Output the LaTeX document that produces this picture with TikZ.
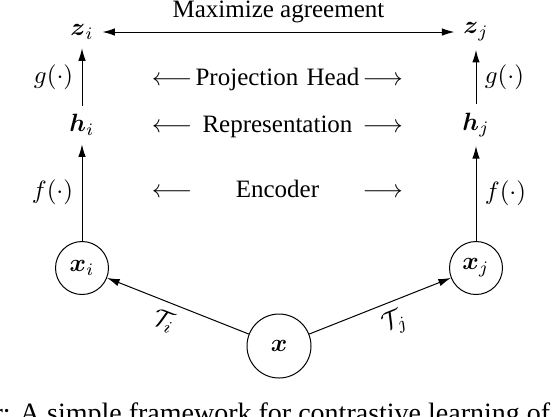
\documentclass[tikz,border=0pt]{standalone}
\usepackage[no-math]{fontspec}
\setmainfont{Liberation Serif}
\usepackage{amsmath}
\usetikzlibrary{arrows.meta}
\begin{document}
\begin{tikzpicture}[x=0.4pt, y=-0.4pt,
	>={Latex[length=5pt,width=3pt]},
	view/.style={shape=circle, draw, inner sep=0pt, minimum size=21.2pt},
	input/.style={view, minimum size=25.6pt},
	rowtext/.style={anchor=base, inner sep=0pt, text width=100.4pt},
]
\useasboundingbox (0,0) rectangle (554,416);
\node[input] (x) at (279,346) {$\boldsymbol{x}$};
\node[view] (xi) at (82,268) {$\boldsymbol{x}_i$};
\node[view] (xj) at (476,268) {$\boldsymbol{x}_j$};
\node (hi) at (82,125) {$\boldsymbol{h}_i$};
\node (hj) at (476,125) {$\boldsymbol{h}_j$};
\node (zi) at (82,32) {$\boldsymbol{z}_i$};
\node (zj) at (476,32) {$\boldsymbol{z}_j$};

\node[rowtext] (head) at (277.5,85) {$\longleftarrow$\hfill Projection Head\hfill$\longrightarrow$};
\node[rowtext] (repr) at (277.5,132) {$\longleftarrow$\hfill Representation\hfill$\longrightarrow$};
\node[rowtext] (enc) at (277.5,197) {$\longleftarrow$\hfill Encoder\hfill$\longrightarrow$};

\begin{scope}[->]
\draw (x) -- node[pos=0.55, below, sloped] {$\mathcal{T}_i$} (xi);
\draw (x) -- node[pos=0.55, below, sloped] {$\mathcal{T}_j$} (xj);
\draw (xi) -- node[left] {$f(\cdot)$} (hi);
\draw (xj) -- node[right] {$f(\cdot)$} (hj);
\draw (hi) -- node[left] {$g(\cdot)$} (zi);
\draw (hj) -- node[right] {$g(\cdot)$} (zj);
\draw[<->] (zi) -- node[above] {Maximize agreement} (zj);
\end{scope}

\node[anchor=base west, inner sep=0pt, font=\fontsize{11.2}{13}\selectfont] (caption) at (-7,422) {r: A simple framework for contrastive learning of};
\end{tikzpicture}
\end{document}
